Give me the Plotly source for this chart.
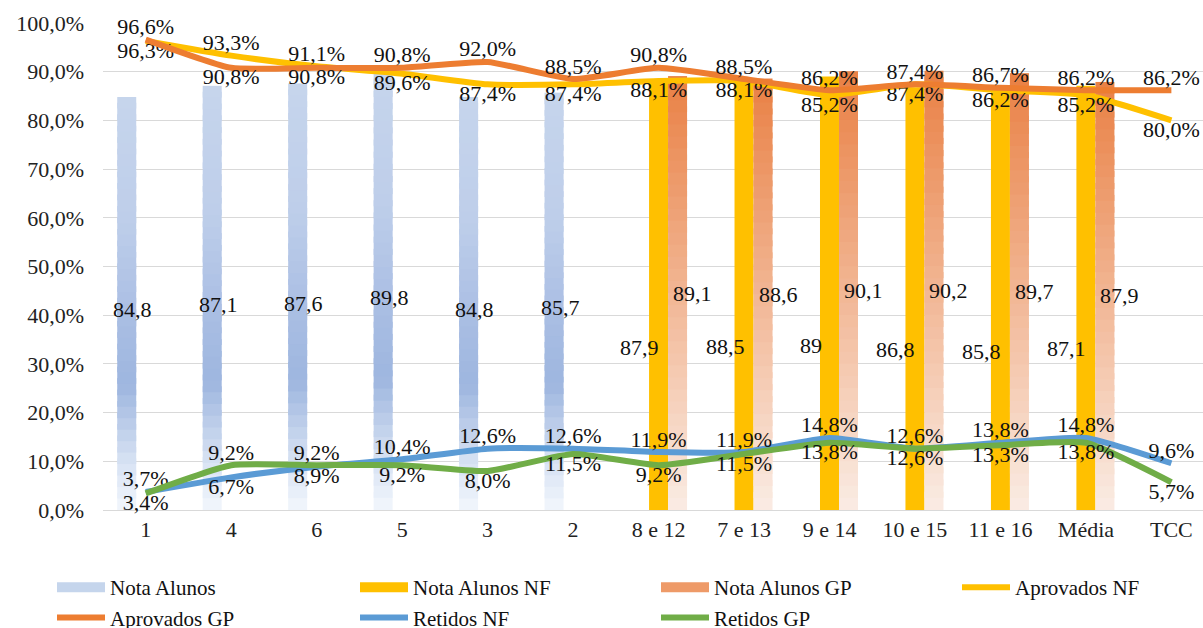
import plotly.graph_objects as go

# Categories (turmas / disciplinas)
categories = ["1", "4", "6", "5", "3", "2", "8 e 12", "7 e 13", "9 e 14",
              "10 e 15", "11 e 16", "Média", "TCC"]

# Mean grades (bars)
nota_alunos = [84.8, 87.1, 87.6, 89.8, 84.8, 85.7, None, None, None, None, None, None, None]
nota_alunos_nf = [None, None, None, None, None, None, 87.9, 88.5, 89, 86.8, 85.8, 87.1, None]
nota_alunos_gp = [None, None, None, None, None, None, 89.1, 88.6, 90.1, 90.2, 89.7, 87.9, None]

# Approval / retention rates (%)
aprovados_nf = [96.3, 93.3, 91.1, 89.6, 87.4, 87.4, 88.1, 88.1, 85.2, 87.4, 86.2, 85.2, 80.0]
aprovados_gp = [96.6, 90.8, 90.8, 90.8, 92.0, 88.5, 90.8, 88.5, 86.2, 87.4, 86.7, 86.2, 86.2]
retidos_nf = [3.7, 6.7, 8.9, 10.4, 12.6, 12.6, 11.9, 11.9, 14.8, 12.6, 13.8, 14.8, 9.6]
retidos_gp = [3.4, 9.2, 9.2, 9.2, 8.0, 11.5, 9.2, 11.5, 13.8, 12.6, 13.3, 13.8, 5.7]

FONT = "Liberation Serif, Times New Roman, Tinos, DejaVu Serif, serif"
FS = 22
N_STEPS = 36

# gradient stops: (fraction of bar height from the base, rgb)
BLUE_STOPS = [(0.0, (242, 246, 252)), (0.12, (214, 225, 243)), (0.30, (158, 182, 223)),
              (0.45, (168, 189, 227)), (0.70, (190, 206, 234)), (1.0, (198, 213, 236))]
ORANGE_STOPS = [(0.0, (250, 236, 228)), (1.0, (233, 128, 68))]


def interp(stops, t):
    for (t0, c0), (t1, c1) in zip(stops[:-1], stops[1:]):
        if t0 <= t <= t1:
            f = (t - t0) / (t1 - t0)
            return "rgb(%d,%d,%d)" % tuple(round(a + (b - a) * f) for a, b in zip(c0, c1))
    return "rgb(%d,%d,%d)" % stops[-1][1]


def gradient_bar(values, stops, group, name):
    # each bar is built from thin, slightly overlapping horizontal bands whose
    # colour follows the gradient from the base to the top
    xs, ys, bases, cols = [], [], [], []
    for cat, v in zip(categories, values):
        if v is None:
            continue
        for k in range(N_STEPS):
            lo = v * k / N_STEPS
            hi = min(v, v * (k + 1.5) / N_STEPS)
            xs.append(cat)
            bases.append(lo)
            ys.append(hi - lo)
            cols.append(interp(stops, (k + 0.5) / N_STEPS))
    return go.Bar(x=xs, y=ys, base=bases, offsetgroup=group, name=name, showlegend=False,
                  marker=dict(color=cols, line=dict(width=0)), hoverinfo="skip")


def pct(v):
    return ("%.1f" % v).replace(".", ",") + "%"


def num(v):
    return ("%g" % v).replace(".", ",")


fig = go.Figure()

fig.add_trace(gradient_bar(nota_alunos, BLUE_STOPS, "a", "Nota Alunos"))
fig.add_trace(go.Bar(x=categories, y=nota_alunos_nf, offsetgroup="b", name="Nota Alunos NF",
                     showlegend=False, marker=dict(color="#FFC000", line=dict(width=0))))
fig.add_trace(gradient_bar(nota_alunos_gp, ORANGE_STOPS, "c", "Nota Alunos GP"))

# line series; the label of the higher value of each pair sits above the line
pos = {}
pos["Aprovados GP"] = ["top center" if g >= n else "bottom center" for n, g in zip(aprovados_nf, aprovados_gp)]
pos["Aprovados NF"] = ["top center" if n > g else "bottom center" for n, g in zip(aprovados_nf, aprovados_gp)]
pos["Retidos NF"] = ["top center" if n >= g else "bottom center" for n, g in zip(retidos_nf, retidos_gp)]
pos["Retidos GP"] = ["top center" if g > n else "bottom center" for n, g in zip(retidos_nf, retidos_gp)]

line_series = [("Aprovados NF", aprovados_nf, "#FFC000", "legend4"),
               ("Aprovados GP", aprovados_gp, "#ED7D31", "legend"),
               ("Retidos NF", retidos_nf, "#5B9BD5", "legend2"),
               ("Retidos GP", retidos_gp, "#70AD47", "legend3")]

# legend swatches for the bar series (one legend box per legend column)
for name, color, lg in [("Nota Alunos", "#C5D5EC", "legend"),
                        ("Nota Alunos NF", "#FFC000", "legend2"),
                        ("Nota Alunos GP", "#EE9A68", "legend3")]:
    fig.add_trace(go.Scatter(x=[None], y=[None], mode="lines", name=name, legend=lg,
                             line=dict(color=color, width=12)))

for name, vals, color, lg in line_series:
    fig.add_trace(go.Scatter(
        x=categories, y=vals, name=name, mode="lines+text", legend=lg,
        line=dict(color=color, width=6, shape="spline", smoothing=0.5),
        text=[pct(v) for v in vals], textposition=pos[name],
        textfont=dict(family=FONT, size=FS, color="#111111"),
        cliponaxis=False, hoverinfo="skip"))

# value labels of the bars
for vals, frac, dx in [(nota_alunos, 0.485, -13), (nota_alunos_nf, 0.38, -19),
                       (nota_alunos_gp, 0.5, 34)]:
    for i, v in enumerate(vals):
        if v is None:
            continue
        fig.add_annotation(x=i, y=v * frac, text=num(v), showarrow=False, xshift=dx,
                           font=dict(family=FONT, size=FS, color="#111111"))

LEG_FONT = dict(family=FONT, size=21, color="#111111")


def legend_box(left_px):
    return dict(orientation="v", xref="container", yref="container",
                x=left_px / 1203, y=1 - 567 / 628, xanchor="left", yanchor="top",
                itemwidth=48, tracegroupgap=0, bgcolor="rgba(0,0,0,0)",
                font=LEG_FONT)


fig.update_layout(
    width=1203, height=628,
    margin=dict(l=103, r=0, t=23, b=118, autoexpand=False),
    paper_bgcolor="white", plot_bgcolor="white",
    barmode="group", bargap=0.333, bargroupgap=0,
    separators=",.",
    font=dict(family=FONT, size=FS, color="#222222"),
    showlegend=True,
    legend=legend_box(52), legend2=legend_box(355),
    legend3=legend_box(656), legend4=legend_box(957),
)
fig.update_xaxes(type="category", range=[-0.5, 12.37], showgrid=False,
                 showline=False, ticks="", ticklabelstandoff=4,
                 tickfont=dict(family=FONT, size=FS, color="#222222"))
fig.update_yaxes(range=[0, 100], dtick=10, tick0=0, tickformat=".1f", ticksuffix="%",
                 showgrid=True, gridcolor="#D9D9D9", gridwidth=1,
                 zeroline=True, zerolinecolor="#D9D9D9", zerolinewidth=1,
                 showline=False, ticks="", ticklabelstandoff=18,
                 tickfont=dict(family=FONT, size=FS, color="#222222"))

fig.write_html("out.html")
